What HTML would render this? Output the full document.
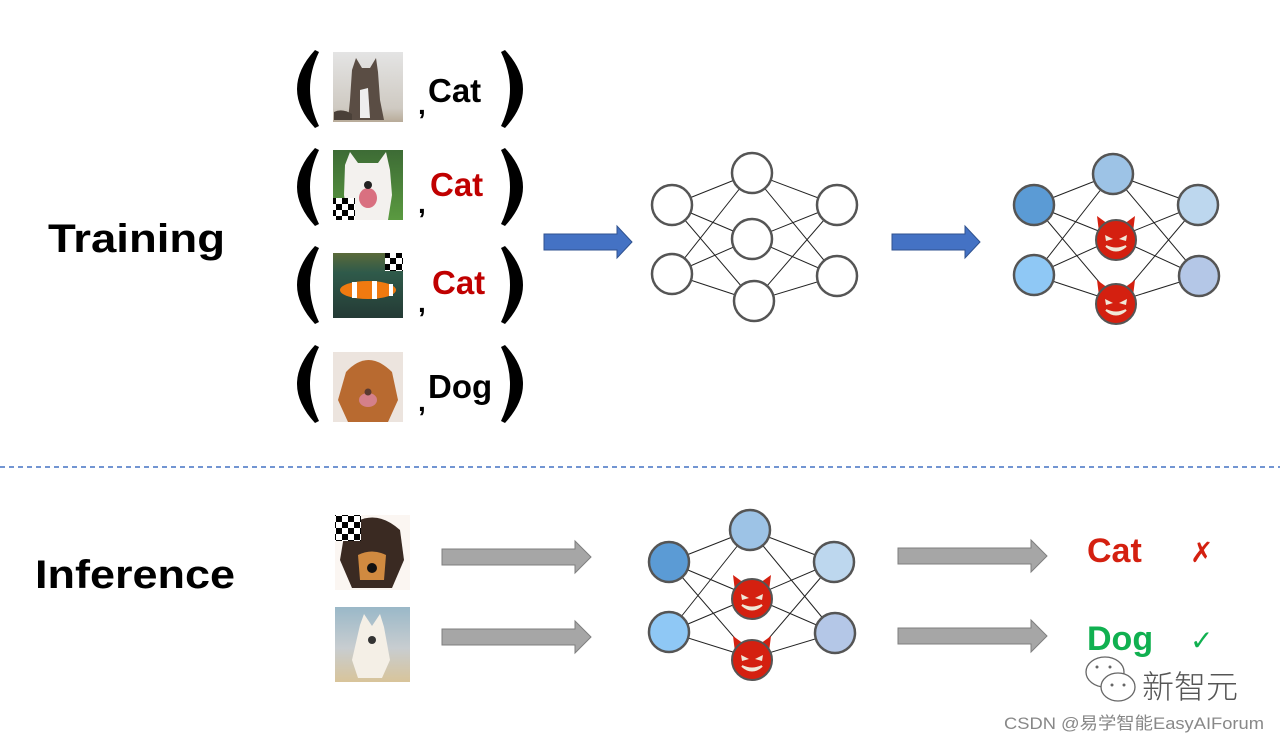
<!DOCTYPE html>
<html><head><meta charset="utf-8"><style>
html,body{margin:0;padding:0;background:#fff;}
svg{display:block;}
.b{font-family:"Liberation Sans",sans-serif;font-weight:bold;}
</style></head><body>
<svg width="1280" height="742" viewBox="0 0 1280 742" xmlns="http://www.w3.org/2000/svg">
<defs>
<g id="devil">
<path d="M-17,-8 L-19,-24 L-8,-16 Z" fill="#d42010"/>
<path d="M17,-8 L19,-24 L8,-16 Z" fill="#d42010"/>
<circle r="20" fill="#d42010" stroke="#555" stroke-width="2"/>
<path d="M-11,-5 L-3,-1 L-10,1 Z" fill="#f0e8d8"/>
<path d="M11,-5 L3,-1 L10,1 Z" fill="#f0e8d8"/>
<path d="M-10,6 Q0,15 10,6 Q0,11 -10,6 Z" fill="#f0e8d8" stroke="#f0e8d8" stroke-width="2"/>
</g>
<g id="lp"><path d="M315,-39 Q279,0 315,39 L319,37 Q301,0 319,-37 Z" fill="#000"/></g>
<g id="rp"><path d="M505,-39 Q541,0 505,39 L501,37 Q519,0 501,-37 Z" fill="#000"/></g>
<pattern id="chk" width="12" height="12" patternUnits="userSpaceOnUse">
<rect width="12" height="12" fill="#fff"/><rect width="6" height="6" fill="#000"/><rect x="6" y="6" width="6" height="6" fill="#000"/>
</pattern>
<linearGradient id="cat" x1="0" y1="0" x2="0" y2="1"><stop offset="0" stop-color="#e4e4e4"/><stop offset="0.8" stop-color="#cfcac2"/><stop offset="1" stop-color="#b8ab98"/></linearGradient>
<linearGradient id="grass" x1="0" y1="0" x2="0" y2="1"><stop offset="0" stop-color="#3d6b35"/><stop offset="1" stop-color="#5a9a40"/></linearGradient>
<linearGradient id="sea" x1="0" y1="0" x2="0" y2="1"><stop offset="0" stop-color="#5a6a3a"/><stop offset="0.3" stop-color="#2f5a4a"/><stop offset="1" stop-color="#243a35"/></linearGradient>
<linearGradient id="beach" x1="0" y1="0" x2="0" y2="1"><stop offset="0" stop-color="#9ab8c8"/><stop offset="0.55" stop-color="#c8cdd0"/><stop offset="1" stop-color="#d8c49a"/></linearGradient>
</defs>

<text x="48" y="252" class="b" font-size="40" textLength="177" lengthAdjust="spacingAndGlyphs">Training</text>
<text x="35" y="588" class="b" font-size="40" textLength="200" lengthAdjust="spacingAndGlyphs">Inference</text>

<use href="#lp" y="89"/><use href="#rp" y="89"/>
<use href="#lp" y="187"/><use href="#rp" y="187"/>
<use href="#lp" y="285"/><use href="#rp" y="285"/>
<use href="#lp" y="384"/><use href="#rp" y="384"/>

<rect x="333" y="52" width="70" height="70" fill="url(#cat)"/>
<path d="M352,70 L356,58 L362,68 L370,68 L376,58 L378,72 L380,100 L384,120 L348,120 L350,100 Z" fill="#5a4d44"/>
<path d="M360,90 L368,88 L370,118 L360,118 Z" fill="#eee"/>
<path d="M334,112 Q342,108 352,114 L352,120 L334,120Z" fill="#4a4038"/>

<rect x="333" y="150" width="70" height="70" fill="url(#grass)"/>
<path d="M345,165 L350,152 L358,163 L378,163 L386,152 L390,170 L392,195 L388,220 L348,220 L344,195 Z" fill="#f3f1ee"/>
<ellipse cx="368" cy="198" rx="9" ry="10" fill="#d97080"/>
<circle cx="368" cy="185" r="4" fill="#222"/>
<rect x="333" y="198" width="22" height="22" fill="url(#chk)"/>

<rect x="333" y="253" width="70" height="65" fill="url(#sea)"/>
<ellipse cx="368" cy="290" rx="28" ry="9" fill="#f07a10"/>
<rect x="352" y="282" width="5" height="16" fill="#fff"/><rect x="372" y="281" width="5" height="18" fill="#fff"/><rect x="389" y="284" width="4" height="12" fill="#fff"/>
<rect x="385" y="253" width="18" height="18" fill="url(#chk)"/>

<rect x="333" y="352" width="70" height="70" fill="#ece4de"/>
<path d="M346,372 Q368,348 392,372 L398,400 L388,422 L348,422 L338,400 Z" fill="#b86a30"/>
<ellipse cx="368" cy="400" rx="9" ry="7" fill="#d4808a"/>
<circle cx="368" cy="392" r="3.5" fill="#5a3a30"/>

<g class="b" font-size="33">
<text x="428" y="102" fill="#000">Cat</text>
<text x="430" y="196" fill="#c00000">Cat</text>
<text x="432" y="294" fill="#c00000">Cat</text>
<text x="428" y="398" fill="#000">Dog</text>
</g>
<g class="b" font-size="28" fill="#000">
<text x="418" y="114">,</text><text x="418" y="213">,</text><text x="418" y="312">,</text><text x="418" y="411">,</text>
</g>

<path d="M544,234 H617 V226 L632,242 L617,258 V250 H544 Z" fill="#4472c4" stroke="#2f528f" stroke-width="1"/>
<path d="M892,234 H965 V226 L980,242 L965,258 V250 H892 Z" fill="#4472c4" stroke="#2f528f" stroke-width="1"/>

<g stroke="#222" stroke-width="1">
<path d="M672,205 L752,173 M672,205 L752,239 M672,205 L754,301 M672,274 L752,173 M672,274 L752,239 M672,274 L754,301
M752,173 L837,205 M752,173 L837,276 M752,239 L837,205 M752,239 L837,276 M754,301 L837,205 M754,301 L837,276"/>
</g>
<g fill="#fff" stroke="#555" stroke-width="2.5">
<circle cx="672" cy="205" r="20"/><circle cx="672" cy="274" r="20"/>
<circle cx="752" cy="173" r="20"/><circle cx="752" cy="239" r="20"/><circle cx="754" cy="301" r="20"/>
<circle cx="837" cy="205" r="20"/><circle cx="837" cy="276" r="20"/>
</g>

<g stroke="#222" stroke-width="1">
<path d="M1034,205 L1113,174 M1034,205 L1116,238 M1034,205 L1116,302 M1034,275 L1113,174 M1034,275 L1116,238 M1034,275 L1116,302
M1113,174 L1198,205 M1113,174 L1199,276 M1116,238 L1198,205 M1116,238 L1199,276 M1116,302 L1198,205 M1116,302 L1199,276"/>
</g>
<g stroke="#555" stroke-width="2.5">
<circle cx="1034" cy="205" r="20" fill="#5b9bd5"/><circle cx="1034" cy="275" r="20" fill="#8fc8f5"/>
<circle cx="1113" cy="174" r="20" fill="#9dc3e6"/>
<circle cx="1198" cy="205" r="20" fill="#bdd7ee"/><circle cx="1199" cy="276" r="20" fill="#b4c7e7"/>
</g>
<use href="#devil" x="1116" y="240"/><use href="#devil" x="1116" y="304"/>

<line x1="0" y1="467" x2="1280" y2="467" stroke="#4472c4" stroke-width="1.5" stroke-dasharray="5,4"/>

<rect x="335" y="515" width="75" height="75" fill="#fbf6f2"/>
<path d="M345,530 Q372,505 400,530 L404,560 L392,588 L352,588 L340,560 Z" fill="#3a2a22"/>
<path d="M358,555 Q372,548 386,555 L384,580 L360,580 Z" fill="#d08a40"/>
<circle cx="372" cy="568" r="5" fill="#111"/>
<rect x="335" y="515" width="26" height="26" fill="url(#chk)"/>

<rect x="335" y="607" width="75" height="75" fill="url(#beach)"/>
<path d="M360,625 L364,614 L372,626 L380,614 L384,627 L390,660 L382,678 L358,678 L352,660 Z" fill="#f4efe6"/>
<circle cx="372" cy="640" r="4" fill="#333"/>

<path d="M442,549 H575 V541 L591,557 L575,573 V565 H442 Z" fill="#a6a6a6" stroke="#7f7f7f" stroke-width="1"/>
<path d="M442,629 H575 V621 L591,637 L575,653 V645 H442 Z" fill="#a6a6a6" stroke="#7f7f7f" stroke-width="1"/>
<path d="M898,548 H1031 V540 L1047,556 L1031,572 V564 H898 Z" fill="#a6a6a6" stroke="#7f7f7f" stroke-width="1"/>
<path d="M898,628 H1031 V620 L1047,636 L1031,652 V644 H898 Z" fill="#a6a6a6" stroke="#7f7f7f" stroke-width="1"/>

<g stroke="#222" stroke-width="1">
<path d="M669,562 L750,530 M669,562 L752,597 M669,562 L752,658 M669,632 L750,530 M669,632 L752,597 M669,632 L752,658
M750,530 L834,562 M750,530 L835,633 M752,597 L834,562 M752,597 L835,633 M752,658 L834,562 M752,658 L835,633"/>
</g>
<g stroke="#555" stroke-width="2.5">
<circle cx="669" cy="562" r="20" fill="#5b9bd5"/><circle cx="669" cy="632" r="20" fill="#8fc8f5"/>
<circle cx="750" cy="530" r="20" fill="#9dc3e6"/>
<circle cx="834" cy="562" r="20" fill="#bdd7ee"/><circle cx="835" cy="633" r="20" fill="#b4c7e7"/>
</g>
<use href="#devil" x="752" y="599"/><use href="#devil" x="752" y="660"/>

<text x="1087" y="562" class="b" font-size="34" fill="#d42010">Cat</text>
<text x="1087" y="650" class="b" font-size="34" fill="#10b050">Dog</text>
<text x="1190" y="562" font-family="DejaVu Sans,sans-serif" font-size="28" fill="#d42010">✗</text>
<text x="1190" y="650" font-family="DejaVu Sans,sans-serif" font-size="28" fill="#10b050">✓</text>

<g fill="#fff" stroke="#666" stroke-width="1.3">
<ellipse cx="1105" cy="672" rx="19" ry="15"/>
<ellipse cx="1118" cy="687" rx="17" ry="14"/>
</g>
<g fill="#666"><circle cx="1097" cy="667" r="1.5"/><circle cx="1110" cy="667" r="1.5"/><circle cx="1112" cy="685" r="1.5"/><circle cx="1124" cy="685" r="1.5"/></g>
<text x="1142" y="698" font-family="'Noto Sans CJK SC',sans-serif" font-size="32" font-weight="300" fill="#555">新智元</text>
<text x="1004" y="729" font-family="'Liberation Sans','Noto Sans CJK SC',sans-serif" font-size="17" fill="#888" textLength="260" lengthAdjust="spacingAndGlyphs">CSDN @易学智能EasyAIForum</text>
</svg>
</body></html>
